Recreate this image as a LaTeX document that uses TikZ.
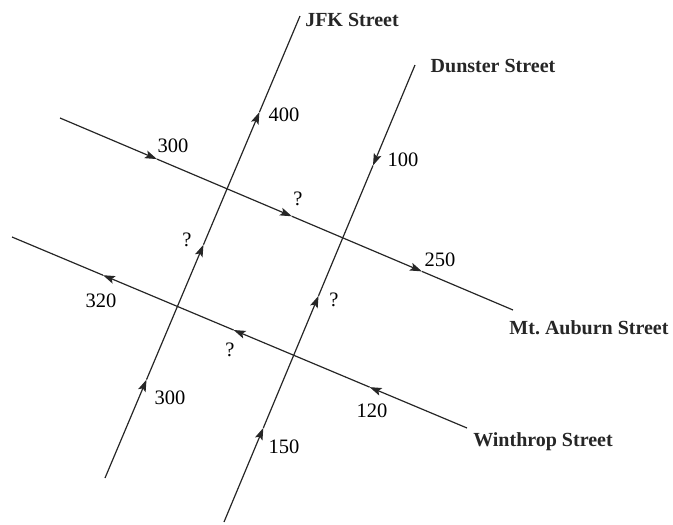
\documentclass[tikz,border=0pt]{standalone}
\usepackage{fontspec}
\setmainfont{Liberation Serif}
\usetikzlibrary{arrows.meta,calc}
\tikzset{
  street/.style={line width=1.2pt, black!85},
  flow/.style={street, -{Stealth[length=12pt,width=8pt,inset=2.5pt]}},
  num/.style={font=\fontsize{20.5}{22}\selectfont, inner sep=0pt},
  sname/.style={font=\fontsize{20}{22}\selectfont\bfseries, inner sep=0pt, text=black!85}
}
\begin{document}
\begin{tikzpicture}[x=1pt,y=-1pt]
\useasboundingbox (0,0) rectangle (673,525);
% street end points
\coordinate (j1) at (105,478); \coordinate (j2) at (300,16);
\coordinate (d1) at (224,522); \coordinate (d2) at (415,65);
\coordinate (m1) at (60,118);  \coordinate (m2) at (513,310);
\coordinate (w1) at (12,237);  \coordinate (w2) at (467,428);
% arrow tips
\coordinate (ja) at ($(j1)!0.213!(j2)$);
\coordinate (jb) at ($(j1)!0.505!(j2)$);
\coordinate (jc) at ($(j1)!0.792!(j2)$);
\coordinate (da) at ($(d1)!0.206!(d2)$);
\coordinate (db) at ($(d1)!0.495!(d2)$);
\coordinate (dc) at ($(d1)!0.780!(d2)$);
\coordinate (ma) at ($(m1)!0.214!(m2)$);
\coordinate (mb) at ($(m1)!0.512!(m2)$);
\coordinate (mc) at ($(m1)!0.799!(m2)$);
\coordinate (wa) at ($(w1)!0.200!(w2)$);
\coordinate (wb) at ($(w1)!0.487!(w2)$);
\coordinate (wc) at ($(w1)!0.786!(w2)$);
% JFK Street (upward)
\draw[flow] (j1) -- (ja);
\draw[flow] (ja) -- (jb);
\draw[flow] (jb) -- (jc);
\draw[street] (jc) -- (j2);
% Dunster Street
\draw[flow] (d1) -- (da);
\draw[flow] (da) -- (db);
\draw[street] (db) -- (dc);
\draw[flow] (d2) -- (dc);
% Mt. Auburn Street (rightward)
\draw[flow] (m1) -- (ma);
\draw[flow] (ma) -- (mb);
\draw[flow] (mb) -- (mc);
\draw[street] (mc) -- (m2);
% Winthrop Street (leftward)
\draw[flow] (w2) -- (wc);
\draw[flow] (wc) -- (wb);
\draw[flow] (wb) -- (wa);
\draw[street] (wa) -- (w1);
% labels
\node[num] (l1) at (170,398) {300};
\node[num] (l2) at (187,240) {?};
\node[num] (l3) at (284,115) {400};
\node[num] (l4) at (403,160) {100};
\node[num] (l5) at (334,300) {?};
\node[num] (l6) at (284,447) {150};
\node[num] (l7) at (173,146) {300};
\node[num] (l8) at (298,199) {?};
\node[num] (l9) at (440,260) {250};
\node[num] (l10) at (101,301) {320};
\node[num] (l11) at (230,350) {?};
\node[num] (l12) at (372,411) {120};
\node[sname] (s1) at (352,20) {JFK Street};
\node[sname] (s2) at (493,66) {Dunster Street};
\node[sname] (s3) at (589,328) {Mt.\ Auburn Street};
\node[sname] (s4) at (543,442) {Winthrop Street};
\end{tikzpicture}
\end{document}
